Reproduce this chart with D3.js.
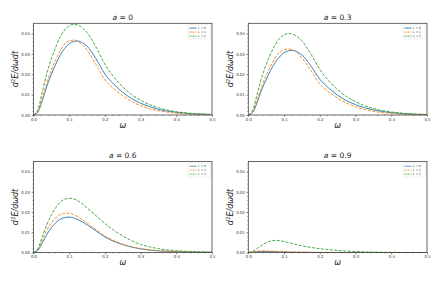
<!DOCTYPE html>
<html><head><meta charset="utf-8">
<script src="https://cdn.jsdelivr.net/npm/d3@7/dist/d3.min.js"></script>
<style>body{margin:0;background:#fff}svg{display:block}text{font-family:"DejaVu Sans",sans-serif}</style>
</head><body>
<script>
const omega = [0, .0125, .025, .0375, .05, .0625, .075, .0875, .1, .1125, .125, .1375, .15, .175, .2, .225, .25, .275, .3, .325, .35, .375, .4, .425, .45, .475, .5];
const seriesLabels = ["L = 0", "L = 1", "L = 2"];
const spinValues = ["0", "0.3", "0.6", "0.9"];
const xTicks = [0, 0.1, 0.2, 0.3, 0.4, 0.5];
const yTicks = [0, 0.01, 0.02, 0.03, 0.04];

const a0_L0 = [0, .0015, .0073, .0142, .0200, .0250, .0294, .0327, .0350, .0361, .0363, .0354, .0338, .0276, .0201, .0151, .0111, .0080, .0058, .0041, .0028, .0019, .0013, .0009, .0005, .0004, .0002];
const a0_L1 = [0, .0018, .0085, .0158, .0221, .0272, .0316, .0350, .0364, .0368, .0361, .0344, .0318, .0248, .0173, .0129, .0094, .0066, .0046, .0031, .0021, .0014, .0009, .0006, .0004, .0002, .0001];
const a0_L2 = [0, .0027, .0116, .0205, .0276, .0334, .0383, .0418, .0438, .0445, .0441, .0427, .0405, .0334, .0249, .0187, .0138, .0100, .0073, .0051, .0036, .0024, .0016, .0011, .0007, .0004, .0003];

const a03_L0 = [0, .0013, .0063, .0124, .0174, .0219, .0257, .0285, .0306, .0315, .0317, .0309, .0295, .0241, .0176, .0132, .0097, .0070, .0051, .0036, .0025, .0017, .0011, .0008, .0005, .0003, .0002];
const a03_L1 = [0, .0016, .0075, .0139, .0194, .0240, .0279, .0308, .0321, .0324, .0318, .0303, .0280, .0219, .0152, .0113, .0083, .0058, .0041, .0028, .0018, .0012, .0008, .0005, .0003, .0002, .0001];
const a03_L2 = [0, .0024, .0104, .0184, .0248, .0300, .0344, .0376, .0394, .0400, .0396, .0384, .0364, .0300, .0224, .0168, .0124, .0090, .0066, .0046, .0032, .0022, .0015, .0010, .0006, .0004, .0003];

const a06_L0 = [0, .0011, .0049, .0089, .0123, .0147, .0165, .0173, .0175, .0171, .0162, .0151, .0137, .0107, .0077, .0055, .0039, .0027, .0018, .0012, .0008, .0006, .0004, .0003, .0002, .0001, .0001];
const a06_L1 = [0, .0016, .0064, .0111, .0146, .0172, .0187, .0194, .0194, .0187, .0176, .0162, .0146, .0113, .0082, .0059, .0041, .0028, .0020, .0013, .0009, .0006, .0004, .0003, .0002, .0001, .0001];
const a06_L2 = [0, .0019, .0080, .0139, .0185, .0222, .0249, .0264, .0268, .0265, .0255, .0239, .0220, .0182, .0143, .0110, .0082, .0058, .0040, .0028, .0019, .0013, .0009, .0006, .0004, .0003, .0002];

const a09_L0 = [0, .0002, .0004, .0005, .0005, .0004, .0004, .0003, .00025, .0002, .00015, .0001, .00008, .00005, .00003, .00002, .00001, 0, 0, 0, 0, 0, 0, 0, 0, 0, 0];
const a09_L1 = [0, .0003, .0007, .0008, .0008, .0007, .0006, .0005, .0004, .0003, .00025, .0002, .00015, .0001, .00006, .00004, .00002, .00001, 0, 0, 0, 0, 0, 0, 0, 0, 0];
const a09_L2 = [0, .0006, .0020, .0036, .0049, .0057, .0060, .0058, .0054, .0049, .0043, .0038, .0033, .0025, .0019, .0014, .0010, .0007, .0005, .0003, .0002, .00013, .00008, .00005, .00003, .00002, .00001];

const panelSeries = [[a0_L0, a0_L1, a0_L2], [a03_L0, a03_L1, a03_L2], [a06_L0, a06_L1, a06_L2], [a09_L0, a09_L1, a09_L2]];
const colors = ["#1f77b4", "#ff7f0e", "#2ca02c"];
const dashes = [null, "3,1.5", "3,1.5"];

const W = 435, H = 290;
const svg = d3.select("body").append("svg").attr("width", W).attr("height", H);

const boxes = [
  {x0: 33.5, x1: 212, y0: 23.3, y1: 115},
  {x0: 248.3, x1: 427, y0: 23.3, y1: 115},
  {x0: 33.5, x1: 212, y0: 161.5, y1: 252.5},
  {x0: 248.3, x1: 427, y0: 161.5, y1: 252.5}
];

boxes.forEach((b, i) => {
  const x = d3.scaleLinear().domain([0, 0.5]).range([b.x0, b.x1]);
  const y = d3.scaleLinear().domain([0, 0.045]).range([b.y1, b.y0]);
  const g = svg.append("g");

  const line = d3.line().x((d, k) => x(omega[k])).y(d => y(d)).curve(d3.curveMonotoneX);
  panelSeries[i].forEach((s, j) => {
    g.append("path").datum(s).attr("d", line).attr("fill", "none")
      .attr("stroke", colors[j]).attr("stroke-width", 0.9)
      .attr("stroke-dasharray", dashes[j]);
  });

  const xAxis = d3.axisBottom(x).tickValues(xTicks).tickFormat(d3.format(".1f")).tickSize(2).tickPadding(1);
  const xMinor = d3.axisBottom(x).tickValues(d3.range(0, 0.5001, 0.02)).tickFormat("").tickSize(1);
  const yAxis = d3.axisLeft(y).tickValues(yTicks).tickFormat(d3.format(".2f")).tickSize(2).tickPadding(1.5);
  const yMinor = d3.axisLeft(y).tickValues(d3.range(0, 0.0441, 0.002)).tickFormat("").tickSize(1);
  [[xAxis, `translate(0,${b.y1})`], [xMinor, `translate(0,${b.y1})`], [yAxis, `translate(${b.x0},0)`], [yMinor, `translate(${b.x0},0)`]].forEach(([ax, tr]) => {
    const a = g.append("g").attr("transform", tr).call(ax);
    a.select(".domain").remove();
    a.selectAll("line").attr("stroke", "#444").attr("stroke-width", 0.5);
    a.selectAll("text").attr("font-size", 3.9).attr("fill", "#333");
  });
  g.append("rect").attr("x", b.x0).attr("y", b.y0).attr("width", b.x1 - b.x0).attr("height", b.y1 - b.y0)
    .attr("fill", "none").attr("stroke", "#444").attr("stroke-width", 0.8);

  const cx = (b.x0 + b.x1) / 2;
  const t = g.append("text").attr("x", cx).attr("y", b.y0 - 3.5).attr("text-anchor", "middle").attr("font-size", 7.5).attr("fill", "#222");
  t.append("tspan").attr("font-style", "italic").text("a");
  t.append("tspan").text(" = " + spinValues[i]);

  g.append("text").attr("x", cx).attr("y", b.y1 + 12.5).attr("text-anchor", "middle").attr("font-size", 8)
    .attr("font-style", "italic").attr("fill", "#222").text("ω");

  const yl = g.append("text").attr("transform", `translate(${b.x0 - 15.5},${(b.y0 + b.y1) / 2}) rotate(-90)`)
    .attr("text-anchor", "middle").attr("font-size", 8).attr("fill", "#222").attr("font-style", "italic");
  yl.append("tspan").text("d");
  yl.append("tspan").attr("font-size", 5.5).attr("dy", -3).attr("font-style", "normal").text("2");
  yl.append("tspan").attr("dy", 3).text("E/dωdt");

  const lx = b.x1 - 24, ly = b.y0 + 1.5;
  g.append("rect").attr("x", lx).attr("y", ly).attr("width", 22.5).attr("height", 14).attr("rx", 1)
    .attr("fill", "#fff").attr("fill-opacity", 0.8).attr("stroke", "#ddd").attr("stroke-width", 0.5);
  seriesLabels.forEach((lab, j) => {
    const yy = ly + 3.3 + j * 4;
    g.append("line").attr("x1", lx + 1.5).attr("x2", lx + 8.5).attr("y1", yy).attr("y2", yy)
      .attr("stroke", colors[j]).attr("stroke-width", i >= 2 ? 1.4 : 0.9)
      .attr("stroke-opacity", i >= 2 ? 0.5 : 1)
      .attr("stroke-dasharray", dashes[j] ? "2,1" : null);
    g.append("text").attr("x", lx + 10).attr("y", yy + 1.1).attr("font-size", 3).attr("fill", "#333").text(lab);
  });
});
</script>
</body></html>
